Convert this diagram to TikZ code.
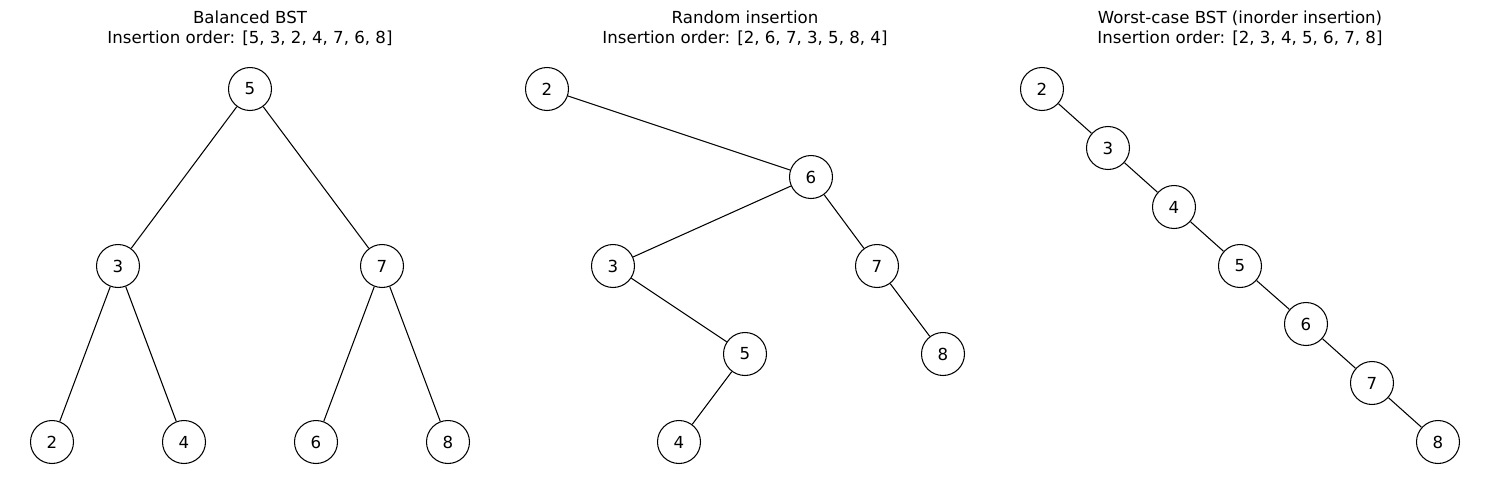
\documentclass[tikz,border=0pt]{standalone}
\usepackage{fontspec}
\setmainfont{DejaVu Sans}
\usepackage{tikz}

\begin{document}
\begin{tikzpicture}[x=0.02cm,y=-0.02cm]
\tikzstyle{every node}+=[font=\fontsize{9.45}{11.6}\selectfont]
\tikzstyle{key}=[draw=black,fill=white,circle,line width=0.6pt,minimum size=0.86cm,inner sep=0pt]
\tikzstyle{edge}=[black,line width=0.6pt]
\useasboundingbox (0,0) rectangle (1489,490);
% balanced
\draw (250,28.5) node [align=center] {Balanced BST\\Insertion order: [5, 3, 2, 4, 7, 6, 8]};
\node [key] (a5) at (250,89) {5};
\node [key] (a3) at (118,266) {3};
\node [key] (a7) at (382,266) {7};
\node [key] (a2) at (52,442) {2};
\node [key] (a4) at (184,442) {4};
\node [key] (a6) at (316,442) {6};
\node [key] (a8) at (448,442) {8};
\draw [edge] (a5) -- (a3);
\draw [edge] (a5) -- (a7);
\draw [edge] (a3) -- (a2);
\draw [edge] (a3) -- (a4);
\draw [edge] (a7) -- (a6);
\draw [edge] (a7) -- (a8);
% random
\draw (745,28.5) node [align=center] {Random insertion\\Insertion order: [2, 6, 7, 3, 5, 8, 4]};
\node [key] (b2) at (547,89) {2};
\node [key] (b6) at (811,177) {6};
\node [key] (b3) at (613,266) {3};
\node [key] (b7) at (877,266) {7};
\node [key] (b5) at (745,354) {5};
\node [key] (b8) at (943,354) {8};
\node [key] (b4) at (679,442) {4};
\draw [edge] (b2) -- (b6);
\draw [edge] (b6) -- (b3);
\draw [edge] (b6) -- (b7);
\draw [edge] (b3) -- (b5);
\draw [edge] (b7) -- (b8);
\draw [edge] (b5) -- (b4);
% worst case
\draw (1240,28.5) node [align=center] {Worst-case BST (inorder insertion)\\Insertion order: [2, 3, 4, 5, 6, 7, 8]};
\node [key] (c2) at (1042,89) {2};
\node [key] (c3) at (1108,148) {3};
\node [key] (c4) at (1174,207) {4};
\node [key] (c5) at (1240,266) {5};
\node [key] (c6) at (1306,324) {6};
\node [key] (c7) at (1372,383) {7};
\node [key] (c8) at (1438,442) {8};
\draw [edge] (c2) -- (c3);
\draw [edge] (c3) -- (c4);
\draw [edge] (c4) -- (c5);
\draw [edge] (c5) -- (c6);
\draw [edge] (c6) -- (c7);
\draw [edge] (c7) -- (c8);
\end{tikzpicture}
\end{document}
